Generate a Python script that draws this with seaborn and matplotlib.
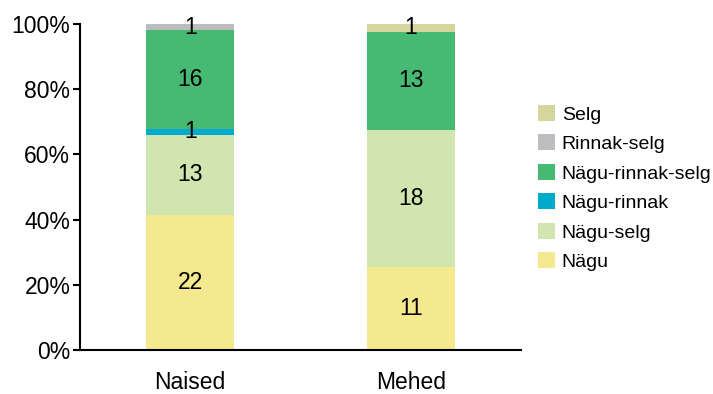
import pandas as pd
import seaborn as sns
import matplotlib.pyplot as plt
from matplotlib.patches import Patch

# data
sugu = ['Naised', 'Mehed']
kategooriad = ['Selg', 'Rinnak-selg', 'Nägu-rinnak-selg', 'Nägu-rinnak', 'Nägu-selg', 'Nägu']
naised = [0, 1, 16, 1, 13, 22]
mehed = [1, 0, 13, 0, 18, 11]
varvid = ['#D4D69E', '#BDBDBF', '#46B973', '#00AACC', '#D1E5B0', '#F5E98F']

rows = []
for k, n, m in zip(kategooriad, naised, mehed):
    rows.append({'sugu': 'Naised', 'kat': k, 'n': n})
    rows.append({'sugu': 'Mehed', 'kat': k, 'n': m})
df = pd.DataFrame(rows)
df['x'] = df['sugu'].map({s: i for i, s in enumerate(sugu)})

plt.rcParams['font.family'] = ['Liberation Sans', 'DejaVu Sans']
fig = plt.figure(figsize=(7.13, 3.94), dpi=100)
ax = fig.add_axes([80 / 713, 1 - 350 / 394, 441 / 713, 326 / 394])

sns.histplot(data=df, x='x', hue='kat', weights='n', hue_order=kategooriad,
             palette=dict(zip(kategooriad, varvid)), multiple='fill',
             discrete=True, shrink=0.4, linewidth=0, alpha=1, legend=False, ax=ax)

# labels from the bars: fraction * total per group
totals = [sum(naised), sum(mehed)]
for cont in ax.containers:
    labels = []
    for p in cont.patches:
        i = int(round(p.get_x() + p.get_width() / 2))
        cnt = int(round(p.get_height() * totals[i]))
        labels.append(str(cnt) if cnt > 0 else '')
    ax.bar_label(cont, labels=labels, label_type='center', fontsize=16.5, color='black')

ax.set_xlim(-0.5, 1.5)
ax.set_ylim(0, 1)
ax.set_xticks([0, 1], sugu)
ax.set_yticks([0, 0.2, 0.4, 0.6, 0.8, 1.0], ['0%', '20%', '40%', '60%', '80%', '100%'])
ax.tick_params(axis='x', length=0, labelsize=16.5, pad=15)
ax.tick_params(axis='y', length=5, width=1.5, labelsize=16.5, pad=2)
ax.set_xlabel('')
ax.set_ylabel('')
sns.despine(ax=ax)
ax.spines['left'].set_linewidth(1.5)
ax.spines['bottom'].set_linewidth(1.5)

handles = [Patch(facecolor=c, edgecolor='none') for c in varvid]
fig.legend(handles, kategooriad, loc='upper left', bbox_to_anchor=(538 / 713, 1 - 105 / 394),
           frameon=False, fontsize=14, handlelength=0.87, handleheight=0.87,
           handletextpad=0.35, labelspacing=0.56, borderpad=0, borderaxespad=0)

fig.savefig('out.png', dpi=100)
